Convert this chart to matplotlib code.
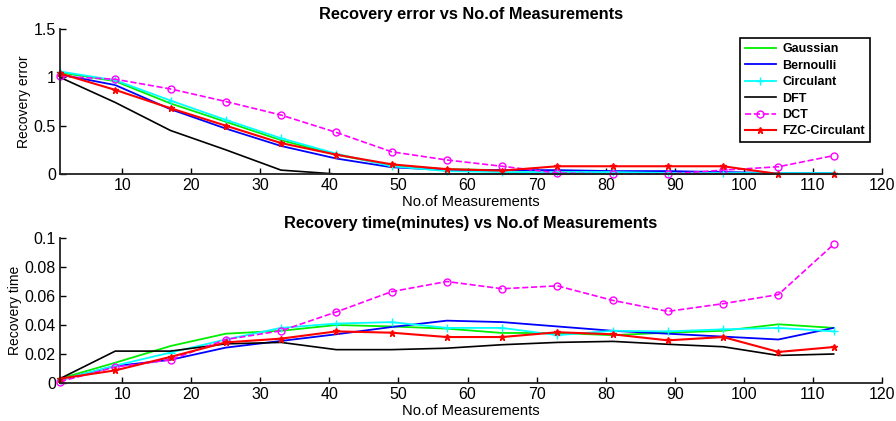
import matplotlib
matplotlib.use("Agg")
import matplotlib.pyplot as plt

plt.rcParams["font.family"] = ["Liberation Sans", "DejaVu Sans"]

measurements = [1, 9, 17, 25, 33, 41, 49, 57, 65, 73, 81, 89, 97, 105, 113]
labels = ["Gaussian", "Bernoulli", "Circulant", "DFT", "DCT", "FZC-Circulant"]

# recovery error
err_gaussian = [1.05, 0.96, 0.73, 0.54, 0.35, 0.20, 0.09, 0.05, 0.04, 0.03, 0.02, 0.01, 0.01, 0.01, 0.01]
err_bernoulli = [1.03, 0.92, 0.67, 0.47, 0.29, 0.16, 0.07, 0.04, 0.04, 0.04, 0.03, 0.03, 0.02, 0.01, 0.01]
err_circulant = [1.06, 0.97, 0.76, 0.56, 0.37, 0.21, 0.08, 0.03, 0.02, 0.02, 0.02, 0.01, 0.01, 0.01, 0.01]
err_dft = [1.0, 0.74, 0.45, 0.25, 0.04, 0.0, 0.0, 0.0, 0.0, 0.0, 0.0, 0.0, 0.0, 0.0, 0.0]
err_dct = [1.01, 0.98, 0.88, 0.75, 0.61, 0.43, 0.23, 0.145, 0.08, 0.01, 0.0, 0.0, 0.04, 0.075, 0.19]
err_fzc = [1.04, 0.87, 0.68, 0.50, 0.32, 0.20, 0.10, 0.05, 0.035, 0.08, 0.08, 0.08, 0.08, 0.0, 0.0]

# recovery time (minutes)
t_gaussian = [0.003, 0.014, 0.0255, 0.034, 0.036, 0.040, 0.039, 0.0375, 0.0345, 0.0345, 0.033, 0.0347, 0.036, 0.0405, 0.038]
t_bernoulli = [0.002, 0.0117, 0.016, 0.0244, 0.029, 0.0336, 0.0386, 0.043, 0.042, 0.039, 0.036, 0.034, 0.032, 0.030, 0.038]
t_circulant = [0.002, 0.012, 0.021, 0.030, 0.038, 0.041, 0.042, 0.038, 0.038, 0.033, 0.036, 0.0356, 0.037, 0.038, 0.0356]
t_dft = [0.003, 0.022, 0.022, 0.027, 0.028, 0.023, 0.023, 0.024, 0.0264, 0.028, 0.0287, 0.0267, 0.025, 0.019, 0.020]
t_dct = [0.001, 0.011, 0.016, 0.030, 0.036, 0.049, 0.063, 0.070, 0.065, 0.067, 0.057, 0.0494, 0.0547, 0.061, 0.0956]
t_fzc = [0.003, 0.0087, 0.018, 0.028, 0.0306, 0.0356, 0.0347, 0.0317, 0.0317, 0.035, 0.0336, 0.0294, 0.0317, 0.0214, 0.0248]

styles = [
    dict(color="#00ee00", lw=1.3),
    dict(color="#0000ff", lw=1.3),
    dict(color="#00ffff", lw=1.3, marker="+", ms=6, mew=1),
    dict(color="black", lw=1.2),
    dict(color="#ff00ff", lw=1.2, ls="--", marker="o", ms=5, mfc="none", mew=1),
    dict(color="#ff0000", lw=1.5, marker="*", ms=5),
]


def style_axes(ax, yticks, yticklabels, ylabel, title):
    ax.set_xlim(1, 120)
    ax.set_xticks(range(10, 121, 10))
    ax.set_yticks(yticks)
    ax.set_yticklabels(yticklabels)
    ax.set_ylim(yticks[0], yticks[-1])
    for side in ("top", "right"):
        ax.spines[side].set_visible(False)
    for side in ("left", "bottom"):
        ax.spines[side].set_linewidth(1.3)
        ax.spines[side].set_color("#222222")
    ax.tick_params(direction="in", length=4, width=1, labelsize=11.5, pad=3)
    ax.set_xlabel("No.of Measurements", fontsize=10.6, labelpad=1)
    ax.set_ylabel(ylabel, fontsize=10, labelpad=2)
    ax.set_title(title, fontsize=11.8, fontweight="bold", pad=7)


fig = plt.figure(figsize=(8.96, 4.21), dpi=100)
ax1 = fig.add_axes([60 / 896, 1 - 174 / 421, 822 / 896, 145 / 421])
ax2 = fig.add_axes([60 / 896, 1 - 383 / 421, 822 / 896, 145 / 421])

errors = [err_gaussian, err_bernoulli, err_circulant, err_dft, err_dct, err_fzc]
times = [t_gaussian, t_bernoulli, t_circulant, t_dft, t_dct, t_fzc]

for label, ys, st in zip(labels, errors, styles):
    ax1.plot(measurements, ys, label=label, clip_on=False, **st)
for label, ys, st in zip(labels, times, styles):
    ax2.plot(measurements, ys, label=label, clip_on=False, **st)

style_axes(ax1, [0, 0.5, 1, 1.5], ["0", "0.5", "1", "1.5"], "Recovery error",
           "Recovery error vs No.of Measurements")
style_axes(ax2, [0, 0.02, 0.04, 0.06, 0.08, 0.1], ["0", "0.02", "0.04", "0.06", "0.08", "0.1"],
           "Recovery time", "Recovery time(minutes) vs No.of Measurements")

leg = ax1.legend(loc="upper right", bbox_to_anchor=(0.985, 0.935), fancybox=False,
                 edgecolor="black", framealpha=1, prop=dict(weight="bold", size=9),
                 handlelength=2.5, handletextpad=0.5, labelspacing=0.35, borderpad=0.4,
                 borderaxespad=0)
leg.get_frame().set_linewidth(1.2)

fig.savefig("out.png", dpi=100)
